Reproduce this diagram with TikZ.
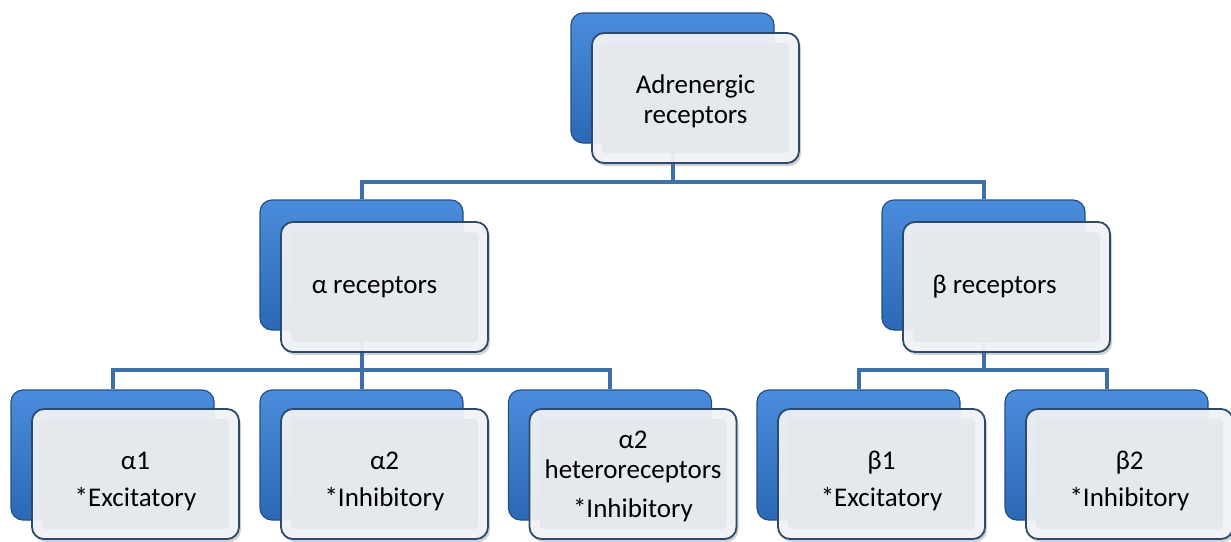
\documentclass[tikz,border=0pt]{standalone}
\usepackage{fontspec}
\setmainfont{Carlito}
\usetikzlibrary{shadows,calc}
\definecolor{linec}{HTML}{3D6FA8}
\definecolor{bluetop}{HTML}{4A8DDC}
\definecolor{bluebot}{HTML}{2C68B5}
\definecolor{backedge}{HTML}{234F88}
\definecolor{frontedge}{HTML}{2C4A6B}
\definecolor{faceouter}{HTML}{F3F4F7}
\definecolor{faceinner}{HTML}{E5E8ED}
\newcommand{\dn}[1]{\rule{0pt}{#1}}
\begin{document}
\begin{tikzpicture}[x=1pt,y=-1pt,
  backbox/.style={rounded corners=12pt, minimum width=203pt, minimum height=130pt,
    draw=backedge, line width=1.2pt, top color=bluetop, bottom color=bluebot, inner sep=0pt},
  frontbox/.style={rounded corners=12pt, minimum width=207pt, minimum height=130pt,
    draw=frontedge, line width=1.8pt, fill=faceouter, fill opacity=0.93, text opacity=1,
    drop shadow={shadow xshift=2pt, shadow yshift=-3pt, opacity=0.3, fill=black!60},
    align=center, font=\fontsize{27}{30}\selectfont, inner sep=0pt, text=black,
    path picture={\fill[faceinner, rounded corners=4pt]
      ($(path picture bounding box.south west)+(10pt,10pt)$) rectangle
      ($(path picture bounding box.north east)+(-10pt,-10pt)$);}},
  conn/.style={draw=linec, line width=4pt}]
\useasboundingbox (0,0) rectangle (1231,541);
% back boxes
\node[backbox] (topb) at (672.5,78) {};
\node[backbox] (alphab) at (361.5,265) {};
\node[backbox] (betab) at (983.5,265) {};
\node[backbox] (a1b) at (112.5,455) {};
\node[backbox] (a2b) at (361.5,455) {};
\node[backbox] (ahb) at (610,455) {};
\node[backbox] (b1b) at (858.5,455) {};
\node[backbox] (b2b) at (1106.5,455) {};
% connectors
\coordinate (j1) at (672.5,182);
\coordinate (j2) at (361.5,370);
\coordinate (j3) at (983.5,370);
\draw[conn] (topb.south) -- (j1);
\draw[conn] (alphab.north) |- (j1);
\draw[conn] (betab.north) |- (j1);
\draw[conn] (alphab.south) -- (j2);
\draw[conn] (a1b.north) |- (j2);
\draw[conn] (a2b.north) |- (j2);
\draw[conn] (ahb.north) |- (j2);
\draw[conn] (betab.south) -- (j3);
\draw[conn] (b1b.north) |- (j3);
\draw[conn] (b2b.north) |- (j3);
% front boxes
\node[frontbox] (topf) at (695.5,98) {\dn{26pt}Adrenergic\\receptors};
\node[frontbox] (alphaf) at (384.5,287) {α receptors\kern20pt};
\node[frontbox] (betaf) at (1006.5,287) {β receptors\kern24pt};
\node[frontbox] (a1f) at (135.5,474) {\dn{32pt}α1\\[7pt]*Excitatory};
\node[frontbox] (a2f) at (384.5,474) {\dn{32pt}α2\\[7pt]*Inhibitory};
\node[frontbox] (ahf) at (633,474) {\dn{22pt}α2\\heteroreceptors\\[9pt]*Inhibitory};
\node[frontbox] (b1f) at (881.5,474) {\dn{32pt}β1\\[7pt]*Excitatory};
\node[frontbox] (b2f) at (1129.5,474) {\dn{32pt}β2\\[7pt]*Inhibitory};
\end{tikzpicture}
\end{document}
